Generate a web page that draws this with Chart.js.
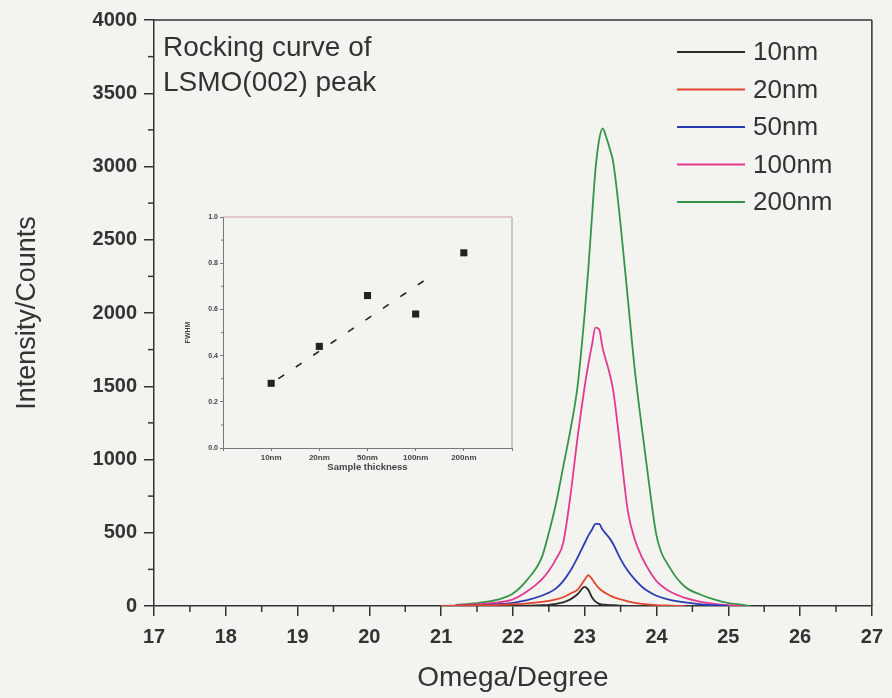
<!DOCTYPE html>
<html>
<head>
<meta charset="utf-8">
<script src="https://cdn.jsdelivr.net/npm/chart.js@4/dist/chart.umd.min.js"></script>
<style>
  html, body { margin: 0; padding: 0; background: #f3f3ef; }
  #wrap { position: relative; width: 892px; height: 698px; }
  #main { position: absolute; left: 0; top: 0; }
  #inset { position: absolute; left: 180px; top: 200px; }
</style>
</head>
<body>
<div id="wrap">
  <canvas id="main" width="892" height="698"></canvas>
  <canvas id="inset" width="340" height="285"></canvas>
</div>
<script>
// rocking curves
const omega = [21.0, 21.2, 21.5, 21.8, 22.0, 22.2, 22.4, 22.5, 22.6, 22.7, 22.8, 22.9, 23.0, 23.05, 23.1, 23.15, 23.2, 23.25, 23.3, 23.35, 23.4, 23.5, 23.6, 23.7, 23.8, 23.9, 24.0, 24.2, 24.4, 24.6, 24.8, 25.0, 25.2, 25.3];
const counts10 = [null, null, null, null, 0, 2, 5, 8, 15, 25, 45, 80, 130, 110, 60, 30, 15, 10, 8, 6, 5, 2, 0, null, null, null, null, null, null, null, null, null, null, null];
const counts20 = [0, 2, 5, 8, 12, 18, 28, 35, 45, 60, 85, 112, 180, 210, 185, 150, 120, 100, 85, 72, 60, 45, 32, 22, 15, 10, 6, 3, 0, null, null, null, null, null];
const counts50 = [null, 0, 5, 12, 22, 40, 70, 90, 120, 170, 240, 330, 430, 480, 520, 560, 560, 520, 490, 460, 420, 320, 240, 180, 130, 95, 70, 40, 25, 12, 5, 0, null, null];
const counts100 = [null, 5, 12, 25, 45, 100, 180, 240, 320, 430, 750, 1150, 1500, 1650, 1780, 1900, 1890, 1760, 1670, 1580, 1460, 1060, 650, 450, 330, 240, 170, 95, 55, 30, 15, 5, 0, null];
const counts200 = [null, 8, 20, 45, 85, 180, 330, 500, 700, 950, 1200, 1500, 2000, 2300, 2650, 2980, 3180, 3260, 3200, 3120, 3020, 2600, 2100, 1600, 1200, 820, 480, 250, 130, 80, 45, 20, 8, 0];
const seriesNames = ['10nm', '20nm', '50nm', '100nm', '200nm'];
const seriesColors = ['#2b2b2b', '#e2452f', '#2a3cb4', '#e23a92', '#35944a'];

// inset: FWHM vs thickness
const thickness = ['10nm', '20nm', '50nm', '100nm', '200nm'];
const fwhm = [0.28, 0.44, 0.66, 0.58, 0.845];
const fitX = [1.15, 4.25];
const fitY = [0.30, 0.735];

Chart.defaults.font.family = "'Liberation Sans', Arial, sans-serif";
Chart.defaults.color = '#333';

const minorTicks = {
  id: 'minorTicks',
  afterDraw(chart, args, opts) {
    const ctx = chart.ctx;
    ctx.save();
    ctx.strokeStyle = opts.color;
    ctx.lineWidth = opts.width;
    for (const id of Object.keys(opts.steps)) {
      const s = chart.scales[id];
      const step = opts.steps[id];
      for (let v = s.min + step; v < s.max; v += step * 2) {
        ctx.beginPath();
        if (s.isHorizontal()) {
          const px = s.getPixelForValue(v);
          ctx.moveTo(px, s.top);
          ctx.lineTo(px, s.top + opts.len);
        } else {
          const py = s.getPixelForValue(v);
          ctx.moveTo(s.right, py);
          ctx.lineTo(s.right - opts.len, py);
        }
        ctx.stroke();
      }
    }
    ctx.restore();
  }
};

const frame = {
  id: 'frame',
  afterDraw(chart, args, opts) {
    const { ctx, chartArea: a } = chart;
    ctx.save();
    ctx.lineWidth = opts.width;
    ctx.strokeStyle = opts.topColor;
    ctx.beginPath(); ctx.moveTo(a.left, a.top); ctx.lineTo(a.right, a.top); ctx.stroke();
    ctx.strokeStyle = opts.rightColor;
    ctx.beginPath(); ctx.moveTo(a.right, a.top); ctx.lineTo(a.right, a.bottom); ctx.stroke();
    ctx.restore();
  }
};

const notes = {
  id: 'notes',
  afterDatasetsDraw(chart) {
    const ctx = chart.ctx;
    ctx.save();
    ctx.fillStyle = '#333';
    ctx.textBaseline = 'middle';
    ctx.font = "28px 'Liberation Sans', Arial, sans-serif";
    ctx.fillText('Rocking curve of', 163, 48);
    ctx.fillText('LSMO(002) peak', 163, 83);
    // legend
    ctx.font = "26px 'Liberation Sans', Arial, sans-serif";
    chart.data.datasets.forEach((ds, i) => {
      const y = 52 + i * 37.5;
      ctx.strokeStyle = ds.borderColor;
      ctx.lineWidth = 2;
      ctx.beginPath(); ctx.moveTo(677, y); ctx.lineTo(745, y); ctx.stroke();
      ctx.fillText(ds.label, 753, y + 1);
    });
    ctx.restore();
  }
};

const seriesData = [counts10, counts20, counts50, counts100, counts200];

new Chart(document.getElementById('main'), {
  type: 'line',
  data: {
    datasets: seriesData.map((vals, i) => ({
      label: seriesNames[i],
      data: omega.map((x, j) => ({ x: x, y: vals[j] })),
      borderColor: seriesColors[i],
      borderWidth: 1.8,
      pointRadius: 0,
      cubicInterpolationMode: 'monotone',
      fill: false
    }))
  },
  options: {
    responsive: false,
    animation: false,
    devicePixelRatio: 1,
    layout: { padding: { top: 20, right: 14, left: 0, bottom: 0 } },
    plugins: {
      legend: { display: false },
      tooltip: { enabled: false },
      minorTicks: { steps: { x: 0.5, y: 250 }, len: 6, color: '#333', width: 1.5 },
      frame: { width: 1.5, topColor: '#333', rightColor: '#333' }
    },
    scales: {
      x: {
        type: 'linear', min: 17, max: 27,
        afterFit: s => { s.height = 92; },
        border: { color: '#333', width: 1.5 },
        grid: { drawOnChartArea: false, tickLength: 10, color: '#333', lineWidth: 1.5 },
        ticks: { stepSize: 1, autoSkip: false, maxRotation: 0, padding: 9,
          font: { size: 20, weight: 'bold' }, color: '#333',
          callback: v => String(v) },
        title: { display: true, text: 'Omega/Degree', font: { size: 28 }, color: '#333',
          padding: { top: 0, bottom: 3 } }
      },
      y: {
        min: 0, max: 4000,
        afterFit: s => { s.width = 154; },
        border: { color: '#333', width: 1.5 },
        grid: { drawOnChartArea: false, tickLength: 10, color: '#333', lineWidth: 1.5 },
        ticks: { stepSize: 500, padding: 7, font: { size: 20, weight: 'bold' }, color: '#333',
          callback: v => String(v) },
        title: { display: true, text: 'Intensity/Counts', font: { size: 27 }, color: '#333',
          padding: { top: 11, bottom: 0 } }
      }
    }
  },
  plugins: [minorTicks, frame, notes]
});

new Chart(document.getElementById('inset'), {
  type: 'scatter',
  data: {
    datasets: [
      {
        label: 'FWHM',
        data: fwhm.map((v, i) => ({ x: i + 1, y: v })),
        pointStyle: 'rect',
        pointRadius: 5,
        backgroundColor: '#222',
        borderColor: '#222',
        borderWidth: 0
      },
      {
        label: 'fit',
        type: 'line',
        data: fitX.map((x, i) => ({ x: x, y: fitY[i] })),
        borderColor: '#222',
        borderWidth: 1.6,
        borderDash: [7, 14],
        pointRadius: 0,
        fill: false
      }
    ]
  },
  options: {
    responsive: false,
    animation: false,
    devicePixelRatio: 1,
    layout: { padding: { top: 17, right: 8, left: 0, bottom: 0 } },
    plugins: {
      legend: { display: false },
      tooltip: { enabled: false },
      minorTicks: { steps: { y: 0.1 }, len: 2, color: '#777', width: 1 },
      frame: { width: 1, topColor: '#c9a0a0', rightColor: '#9a9ab8' }
    },
    scales: {
      x: {
        type: 'linear', min: 0, max: 6,
        afterFit: s => { s.height = 37; },
        border: { color: '#777', width: 1 },
        grid: { drawOnChartArea: false, tickLength: 3, color: '#777' },
        ticks: { stepSize: 1, autoSkip: false, maxRotation: 0, padding: 2,
          font: { size: 8, weight: 'bold' }, color: '#444',
          callback: v => thickness[v - 1] || '' },
        title: { display: true, text: 'Sample thickness', font: { size: 9.5, weight: 'bold' }, color: '#444',
          padding: { top: 0, bottom: 12 } }
      },
      y: {
        min: 0, max: 1,
        afterFit: s => { s.width = 43; },
        border: { color: '#777', width: 1 },
        grid: { drawOnChartArea: false, tickLength: 3, color: '#777' },
        ticks: { stepSize: 0.2, padding: 2, font: { size: 7, weight: 'bold' }, color: '#444',
          callback: v => v.toFixed(1) },
        title: { display: true, text: 'FWHM', font: { size: 7, weight: 'bold' }, color: '#444',
          padding: { top: 4, bottom: 0 } }
      }
    }
  },
  plugins: [minorTicks, frame]
});
</script>
</body>
</html>
